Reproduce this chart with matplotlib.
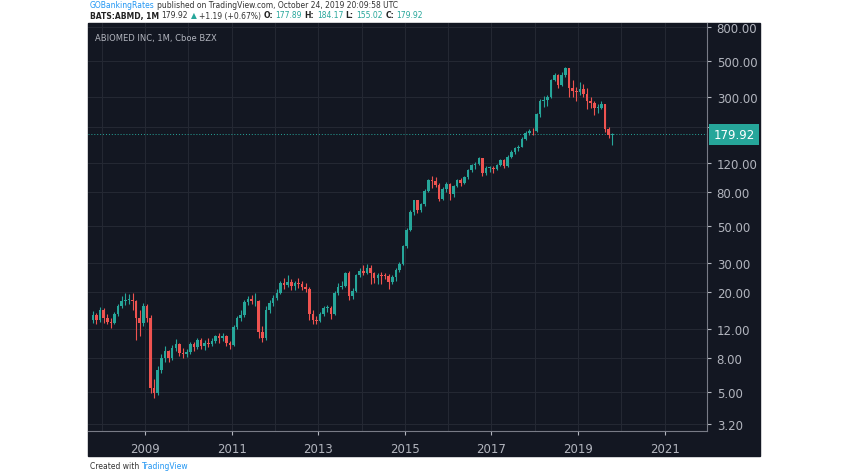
import matplotlib
matplotlib.use("Agg")
import matplotlib.pyplot as plt
from matplotlib.patches import Rectangle
import numpy as np

start_year, start_month = 2007, 10
closes = [14.5,13.5,15.5,
 14.0,13.2,13.1,14.7,16.5,17.7,18.0,18.0,17.7,14.0,13.0,16.4,
 14.0,5.3,4.9,6.8,8.0,8.8,8.0,9.2,9.7,8.6,8.5,8.7,
 9.7,9.3,10.3,9.4,9.9,9.7,10.2,10.8,10.6,10.8,9.9,9.6,
 12.3,14.0,14.5,17.5,18.3,17.6,17.8,11.5,10.5,15.7,17.3,18.5,
 19.9,22.7,22.2,23.0,21.8,22.8,22.5,21.5,20.9,14.8,13.6,13.4,
 14.7,16.0,16.1,14.8,19.7,21.5,21.7,26.0,18.9,20.3,25.3,26.7,
 26.0,28.0,26.0,24.5,25.4,25.1,25.0,23.0,24.8,27.4,29.4,38.0,
 47.4,61.4,71.6,63.0,68.0,82.0,95.6,94.0,89.0,73.5,83.4,90.3,
 78.0,87.2,94.8,91.8,98.6,109.3,116.5,119.2,128.6,105.5,112.5,112.7,
 111.6,116.7,124.9,116.0,131.6,141.3,148.2,151.6,168.6,183.0,189.0,187.4,
 236.7,286.1,290.9,303.1,384.0,409.1,354.5,409.3,449.8,341.2,326.1,325.0,
 339.5,316.2,285.6,277.4,260.3,260.5,272.4,192.4,177.89,179.92]
first_open = 13.5
highs = [15.3,15.0,16.2,
 16.0,14.8,14.0,15.2,17.0,19.0,19.8,19.5,19.9,18.0,15.5,17.2,
 17.0,14.5,6.0,7.2,8.5,9.4,9.0,9.6,10.4,9.9,9.2,9.1,
 10.0,10.0,10.6,10.6,10.3,10.6,10.5,11.0,11.3,11.4,11.0,10.2,
 12.6,14.4,15.5,18.0,19.0,19.2,19.8,18.0,12.5,16.5,18.0,19.2,
 20.8,23.5,24.5,25.5,24.0,23.5,24.2,23.2,22.8,21.5,15.5,14.3,
 15.2,16.5,16.7,16.5,20.2,22.6,23.2,26.5,26.8,21.3,25.8,28.0,
 29.0,29.5,29.0,26.4,26.0,26.4,26.0,25.6,25.4,28.0,30.3,38.8,
 48.6,63.0,72.5,72.0,69.5,84,97,100,99,91,86,92,
 91,89,96,98,101,111,119,122,131,130,116,116,
 115,119,127,127,134,145,151,155,172,188,194,196,
 240,292,305,312,390,420,415,425,460,455,380,345,
 370,360,340,300,285,275,285,275,200,184.17]
lows = [13.0,12.8,13.2,
 13.0,12.8,12.2,12.8,14.3,16.0,16.8,16.9,15.5,10.3,10.8,12.5,
 13.2,4.9,4.6,4.8,6.5,7.6,7.6,7.8,8.8,8.2,8.0,8.1,
 8.5,8.8,9.1,9.1,8.9,9.3,9.4,9.8,9.9,10.2,9.5,9.1,
 9.4,12.0,13.4,14.2,16.8,16.9,16.5,10.5,10.0,10.3,15.0,16.6,
 17.9,19.5,21.0,21.4,20.5,20.5,21.3,20.5,20.0,13.5,12.8,12.8,
 13.2,14.4,15.1,13.7,14.6,19.2,21.0,21.4,18.0,18.3,20.1,24.8,
 25.3,25.6,22.5,22.7,22.5,22.5,24.0,20.8,22.4,23.5,26.6,29.0,
 36.8,46.8,58.5,60,61,66,80,85,86,71,72,81,
 72,75,86,87,90,96,106,111,117,100,102,107,
 105,109,115,112,114,129,137,143,150,166,178,178,
 185,230,262,265,298,375,340,350,400,300,300,285,
 310,300,255,260,235,240,255,185,170,155.02]
y_ticks = [800,500,300,200,120,80,50,30,20,12,8,5,3.2]
x_years = [2009,2011,2013,2015,2017,2019,2021]
last_price = 179.92

W, H = 848, 477
fig = plt.figure(figsize=(W/100, H/100), dpi=100)
fig.patch.set_facecolor("white")
bg = "#131722"
fig.patches.append(Rectangle((88/W, (H-457)/H), (760-88)/W, (457-24)/H,
                             transform=fig.transFigure, color=bg, zorder=-10))
ax = fig.add_axes([88/W, (H-432)/H, (707-88)/W, (432-24)/H])
ax.set_facecolor(bg)
ax.set_yscale("log")
ax.set_ylim(2.9, 845)
ax.set_xlim(2007.68, 2021.98)

n = len(closes)
opens = [first_open] + closes[:-1]
xs = np.array([start_year + (start_month - 1 + i + 0.5) / 12 for i in range(n)])
up = "#26a69a"; dn = "#ef5350"
for x, o, h, l, c in zip(xs, opens, highs, lows, closes):
    col = up if c >= o else dn
    ax.vlines(x, l, h, color=col, lw=0.8, zorder=3)
    lo, hi = min(o, c), max(o, c)
    if hi / lo < 1.01:
        hi = lo * 1.01
    ax.bar(x, hi - lo, bottom=lo, width=0.06, color=col, zorder=4, linewidth=0)

grid = "#242833"
for t in y_ticks:
    ax.axhline(t, color=grid, lw=0.8, zorder=1)
for yr in x_years + [2008, 2010, 2012, 2014, 2016, 2018, 2020]:
    ax.axvline(yr, color=grid, lw=0.8, zorder=1)
ax.axhline(last_price, color="#26a69a", lw=0.7, ls=(0, (1, 2)), zorder=2)

ax.set_yticks(y_ticks)
ax.set_yticklabels([f"{t:.2f}" for t in y_ticks])
ax.yaxis.set_minor_locator(matplotlib.ticker.NullLocator())
ax.yaxis.tick_right()
ax.tick_params(axis="y", colors="#b2b5be", labelsize=8.5, length=3, pad=4)
ax.set_xticks(x_years)
ax.set_xticklabels([str(y) for y in x_years])
ax.tick_params(axis="x", colors="#b2b5be", labelsize=8.5, length=3, pad=5)
for s in ax.spines.values():
    s.set_visible(False)
ax.spines["right"].set_visible(True); ax.spines["right"].set_color("#787b86")
ax.spines["bottom"].set_visible(True); ax.spines["bottom"].set_color("#787b86")

ax.text(1.01, last_price, f"{last_price:.2f}", transform=ax.get_yaxis_transform(),
        ha="left", va="center", color="white", fontsize=8.5,
        bbox=dict(boxstyle="square,pad=0.35", fc="#26a69a", ec="none"), zorder=6,
        clip_on=False)
ax.text(0.012, 0.975, "ABIOMED INC, 1M, Cboe BZX", transform=ax.transAxes,
        color="#b2b5be", fontsize=6, va="top")

renderer = fig.canvas.get_renderer()
def line(parts, y, x0=90, fs=5.5, gap=2.5):
    x = x0
    for txt, col, bold in parts:
        t = fig.text(x/W, 1 - y/H, txt, color=col, fontsize=fs, va="center",
                     weight="bold" if bold else "normal")
        x += t.get_window_extent(renderer).width + gap

line([("GOBankingRates", "#2196f3", False),
      ("published on TradingView.com, October 24, 2019 20:09:58 UTC", "#333333", False)], 6)
line([("BATS:ABMD, 1M", "#222222", True), ("179.92", "#333333", False),
      ("\u25b2", "#26a69a", False), ("+1.19 (+0.67%)", "#333333", False),
      ("O:", "#222222", True), ("177.89", "#26a69a", False),
      ("H:", "#222222", True), ("184.17", "#26a69a", False),
      ("L:", "#222222", True), ("155.02", "#26a69a", False),
      ("C:", "#222222", True), ("179.92", "#26a69a", False)], 16)
line([("Created with", "#333333", False), ("TradingView", "#2196f3", False)], 467)

fig.savefig("out.png", dpi=100, facecolor="white")
